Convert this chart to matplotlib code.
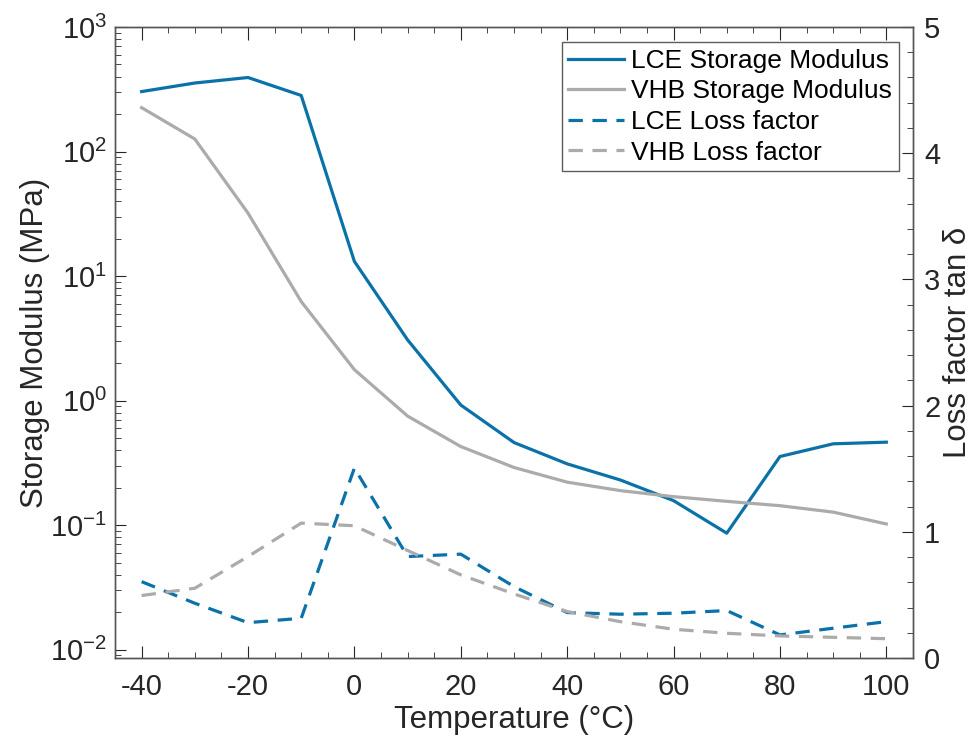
import numpy as np
import matplotlib
matplotlib.use('Agg')
import matplotlib.pyplot as plt
from matplotlib.ticker import MultipleLocator, LogLocator, NullFormatter

plt.rcParams['font.family'] = ['Liberation Sans', 'DejaVu Sans']
plt.rcParams['mathtext.fontset'] = 'custom'
plt.rcParams['mathtext.rm'] = 'Liberation Sans'
plt.rcParams['axes.unicode_minus'] = False

# data
temp = [-40, -30, -20, -10, 0, 10, 20, 30, 40, 50, 60, 70, 80, 90, 100]
lce_storage = [303, 355, 393, 282, 13.1, 3.07, 0.92, 0.46, 0.31, 0.23, 0.157, 0.086, 0.355, 0.449, 0.463]
vhb_storage = [225, 126, 32, 6.24, 1.77, 0.75, 0.427, 0.29, 0.221, 0.189, 0.169, 0.155, 0.143, 0.127, 0.102]
lce_loss = [0.605, 0.434, 0.28, 0.315, 1.505, 0.804, 0.823, 0.566, 0.36, 0.347, 0.355, 0.376, 0.183, 0.236, 0.288]
vhb_loss = [0.495, 0.553, 0.804, 1.069, 1.048, 0.852, 0.659, 0.508, 0.368, 0.288, 0.228, 0.196, 0.175, 0.164, 0.153]

blue = '#0A72A8'
gray = '#ABABAB'
axc = '#262626'

fig = plt.figure(figsize=(9.79, 7.42), dpi=100)
ax = fig.add_axes([0.1175, 0.1132, 0.815, 0.8504])
ax2 = ax.twinx()

l1, = ax.plot(temp, lce_storage, color=blue, lw=2.3, label='LCE Storage Modulus')
l2, = ax.plot(temp, vhb_storage, color=gray, lw=2.3, label='VHB Storage Modulus')
l3, = ax2.plot(temp, lce_loss, color=blue, lw=2.3, dashes=(4.5, 3), label='LCE Loss factor')
l4, = ax2.plot(temp, vhb_loss, color=gray, lw=2.3, dashes=(4.5, 3), label='VHB Loss factor')

ax.set_yscale('log')
ax.set_xlim(-45, 105)
ax.set_ylim(10 ** -2.068, 1000)
ax2.set_ylim(0, 5)

ax.xaxis.set_major_locator(MultipleLocator(20))
ax.xaxis.set_minor_locator(MultipleLocator(5))
ax.yaxis.set_major_locator(LogLocator(base=10, numticks=10))
ax.yaxis.set_minor_locator(LogLocator(base=10, subs=np.arange(2, 10), numticks=10))
ax.yaxis.set_minor_formatter(NullFormatter())
ax2.yaxis.set_major_locator(MultipleLocator(1))
ax2.yaxis.set_minor_locator(MultipleLocator(0.2))

ax.tick_params(axis='x', which='both', direction='in', top=True, labelsize=21, colors=axc, pad=11)
ax.tick_params(axis='x', which='major', length=9)
ax.tick_params(axis='x', which='minor', length=4.5)
ax.tick_params(axis='y', which='both', direction='in', right=False, labelsize=21, colors=axc, pad=6)
ax.tick_params(axis='y', which='major', length=8)
ax.tick_params(axis='y', which='minor', length=4)
ax2.tick_params(axis='y', which='both', direction='in', labelsize=21, colors=axc, pad=8)
ax2.tick_params(axis='y', which='major', length=8)
ax2.tick_params(axis='y', which='minor', length=4)

for a in (ax, ax2):
    for s in a.spines.values():
        s.set_color('#555555')
        s.set_linewidth(1.0)

ax.set_xlabel('Temperature (°C)', fontsize=22.5, color=axc, labelpad=3)
ax.set_ylabel('Storage Modulus (MPa)', fontsize=22.5, color=axc, labelpad=0)
ax2.set_ylabel('Loss factor tan δ', fontsize=22.5, color=axc, labelpad=2)

leg = ax2.legend(handles=[l1, l2, l3, l4], loc='upper right', bbox_to_anchor=(0.9825, 0.976),
                 fontsize=19, frameon=True, fancybox=False, handlelength=2.1,
                 borderpad=0.25, labelspacing=0.25, handletextpad=0.3, borderaxespad=0)
leg.get_frame().set_edgecolor('#333333')
leg.get_frame().set_linewidth(1.0)

plt.savefig('out.png', dpi=100)
